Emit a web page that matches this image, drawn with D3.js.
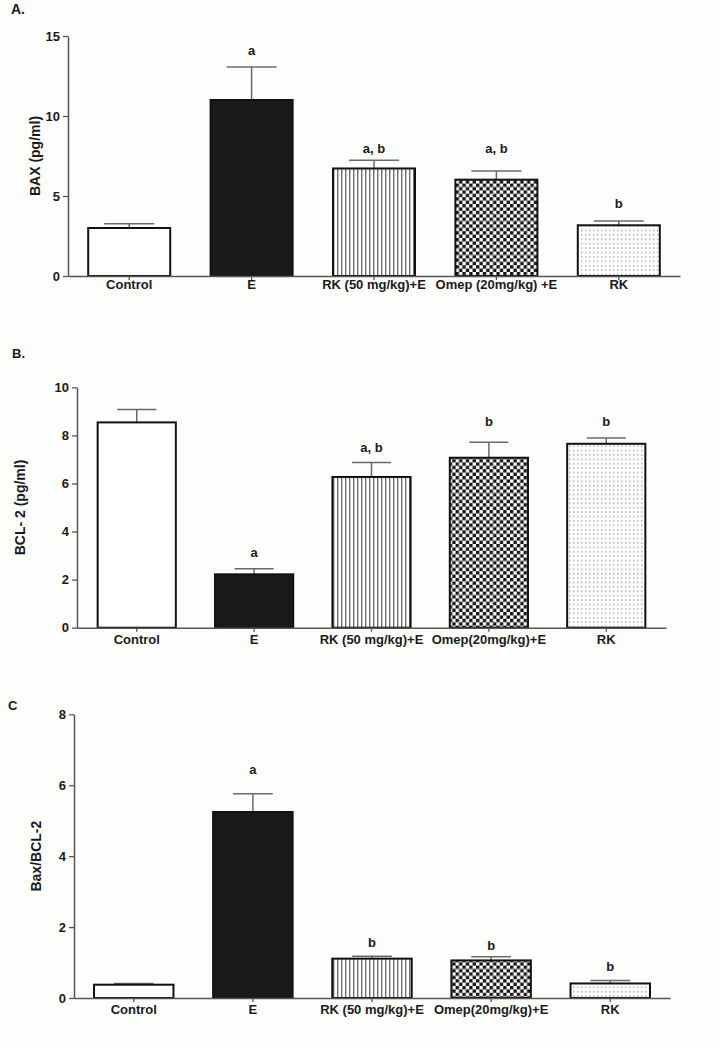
<!DOCTYPE html>
<html><head><meta charset="utf-8">
<script src="https://cdn.jsdelivr.net/npm/d3@7"></script>
<style>
body{margin:0;background:#fdfdfc}
svg{display:block;font-family:"Liberation Sans",Arial,sans-serif}
</style>
</head><body><svg id="c" width="721" height="1048"></svg>
<script>
// ---------- data ----------
const categoriesA = ["Control", "E", "RK (50 mg/kg)+E", "Omep (20mg/kg) +E", "RK"];
const categoriesBC = ["Control", "E", "RK (50 mg/kg)+E", "Omep(20mg/kg)+E", "RK"];

const baxMean = [3.0, 11.0, 6.72, 6.02, 3.17];
const baxSem = [0.27, 2.06, 0.51, 0.54, 0.27];
const baxLetters = ["", "a", "a, b", "a, b", "b"];
const baxLetterLevel = [0, 13.8, 7.7, 7.7, 4.25];
const baxTicks = [0, 5, 10, 15];

const bclMean = [8.54, 2.22, 6.27, 7.07, 7.65];
const bclSem = [0.54, 0.23, 0.6, 0.64, 0.24];
const bclLetters = ["", "a", "a, b", "b", "b"];
const bclLetterLevel = [0, 2.96, 7.32, 8.4, 8.4];
const bclTicks = [0, 2, 4, 6, 8, 10];

const ratioMean = [0.375, 5.245, 1.11, 1.06, 0.41];
const ratioSem = [0.035, 0.515, 0.07, 0.105, 0.08];
const ratioLetters = ["", "a", "b", "b", "b"];
const ratioLetterLevel = [0, 6.32, 1.45, 1.35, 0.77];
const ratioTicks = [0, 2, 4, 6, 8];

// ---------- drawing ----------
const svg = d3.select("#c");
const defs = svg.append("defs");

// vertical lines pattern
const pv = defs.append("pattern").attr("id", "vlines").attr("patternUnits", "userSpaceOnUse")
  .attr("width", 4).attr("height", 4);
pv.append("rect").attr("width", 4).attr("height", 4).attr("fill", "#fff");
pv.append("rect").attr("x", 1).attr("width", 1.4).attr("height", 4).attr("fill", "#6f6f6f");

// checkerboard pattern
const cs = 3.4;
const pc = defs.append("pattern").attr("id", "checker").attr("patternUnits", "userSpaceOnUse")
  .attr("width", cs * 2).attr("height", cs * 2);
pc.append("rect").attr("width", cs * 2).attr("height", cs * 2).attr("fill", "#fff");
pc.append("rect").attr("width", cs).attr("height", cs).attr("fill", "#151515");
pc.append("rect").attr("x", cs).attr("y", cs).attr("width", cs).attr("height", cs).attr("fill", "#151515");

// dots pattern
const pd = defs.append("pattern").attr("id", "dots").attr("patternUnits", "userSpaceOnUse")
  .attr("width", 4).attr("height", 4.4);
pd.append("rect").attr("width", 4).attr("height", 4.4).attr("fill", "#fff");
pd.append("rect").attr("x", 1).attr("y", 1).attr("width", 1.4).attr("height", 1.4).attr("fill", "#a8a8a8");

const fills = ["#ffffff", "#1a1a1a", "url(#vlines)", "url(#checker)", "url(#dots)"];
const ink = "#1a1a1a";

function panel(cfg) {
  const x = d3.scaleBand().domain(cfg.cats).range([cfg.x0, cfg.x1])
    .paddingInner(cfg.pi).paddingOuter(cfg.po);
  const y = d3.scaleLinear().domain([0, cfg.max]).range([cfg.yb, cfg.yt]);
  const g = svg.append("g");
  const data = cfg.cats.map((c, i) => ({c, i, m: cfg.mean[i], s: cfg.sem[i], l: cfg.letters[i], ll: cfg.levels[i]}));
  const bw = x.bandwidth();
  const capW = bw * cfg.cap;

  // error bars
  const eg = g.append("g").attr("stroke", "#6a6a6a").attr("stroke-width", 1.5);
  eg.selectAll("line.v").data(data).join("line").attr("class", "v")
    .attr("x1", d => x(d.c) + bw / 2).attr("x2", d => x(d.c) + bw / 2)
    .attr("y1", d => y(d.m)).attr("y2", d => y(d.m + d.s));
  eg.selectAll("line.h").data(data).join("line").attr("class", "h")
    .attr("x1", d => x(d.c) + bw / 2 - capW / 2).attr("x2", d => x(d.c) + bw / 2 + capW / 2)
    .attr("y1", d => y(d.m + d.s)).attr("y2", d => y(d.m + d.s));

  // bars
  g.append("g").selectAll("rect").data(data).join("rect")
    .attr("x", d => x(d.c)).attr("width", bw)
    .attr("y", d => y(d.m)).attr("height", d => y(0) - y(d.m))
    .attr("fill", d => fills[d.i]).attr("stroke", "#111").attr("stroke-width", 2);

  // axes
  const ya = g.append("g").attr("transform", `translate(${cfg.x0},0)`)
    .call(d3.axisLeft(y).tickValues(cfg.ticks).tickSize(5).tickSizeOuter(0).tickPadding(3));
  const xa = g.append("g").attr("transform", `translate(0,${cfg.yb})`)
    .call(d3.axisBottom(x).tickSize(4).tickSizeOuter(0).tickPadding(cfg.xpad));
  [ya, xa].forEach(a => {
    a.select(".domain").attr("stroke", "#555").attr("stroke-width", 1.5);
    a.selectAll(".tick line").attr("stroke", "#555").attr("stroke-width", 1.3);
    a.selectAll("text").attr("fill", ink).attr("font-size", 13).attr("font-weight", "bold")
      .attr("font-family", '"Liberation Sans",Arial,sans-serif');
  });

  // letters
  g.append("g").selectAll("text").data(data.filter(d => d.l)).join("text")
    .attr("x", d => x(d.c) + bw / 2).attr("y", d => y(d.ll))
    .attr("text-anchor", "middle").attr("font-size", 13).attr("font-weight", "bold")
    .attr("fill", ink).text(d => d.l);

  // y title
  g.append("text")
    .attr("transform", `translate(${cfg.titleX},${(cfg.yb + cfg.yt) / 2}) rotate(-90)`)
    .attr("text-anchor", "middle").attr("font-size", 14).attr("font-weight", "bold")
    .attr("fill", ink).text(cfg.title);

  // panel label
  g.append("text").attr("x", cfg.lx).attr("y", cfg.ly)
    .attr("font-size", cfg.lsize).attr("font-weight", "bold").attr("fill", ink).text(cfg.label);
}

panel({cats: categoriesA, mean: baxMean, sem: baxSem, letters: baxLetters, levels: baxLetterLevel,
  ticks: baxTicks, max: 15, x0: 68, x1: 680, yb: 276, yt: 36, pi: 0.33, po: 0.165, cap: 0.61, xpad: 0,
  title: "BAX (pg/ml)", titleX: 40, label: "A.", lx: 11, ly: 14, lsize: 14});

panel({cats: categoriesBC, mean: bclMean, sem: bclSem, letters: bclLetters, levels: bclLetterLevel,
  ticks: bclTicks, max: 10, x0: 77, x1: 666, yb: 627.7, yt: 387.3, pi: 0.334, po: 0.176, cap: 0.5, xpad: 3,
  title: "BCL- 2 (pg/ml)", titleX: 25, label: "B.", lx: 12, ly: 358, lsize: 13});

panel({cats: categoriesBC, mean: ratioMean, sem: ratioSem, letters: ratioLetters, levels: ratioLetterLevel,
  ticks: ratioTicks, max: 8, x0: 74, x1: 670, yb: 998, yt: 714.3, pi: 0.333, po: 0.168, cap: 0.5, xpad: 3,
  title: "Bax/BCL-2", titleX: 41, label: "C", lx: 8, ly: 710, lsize: 13});
</script>
</body></html>
